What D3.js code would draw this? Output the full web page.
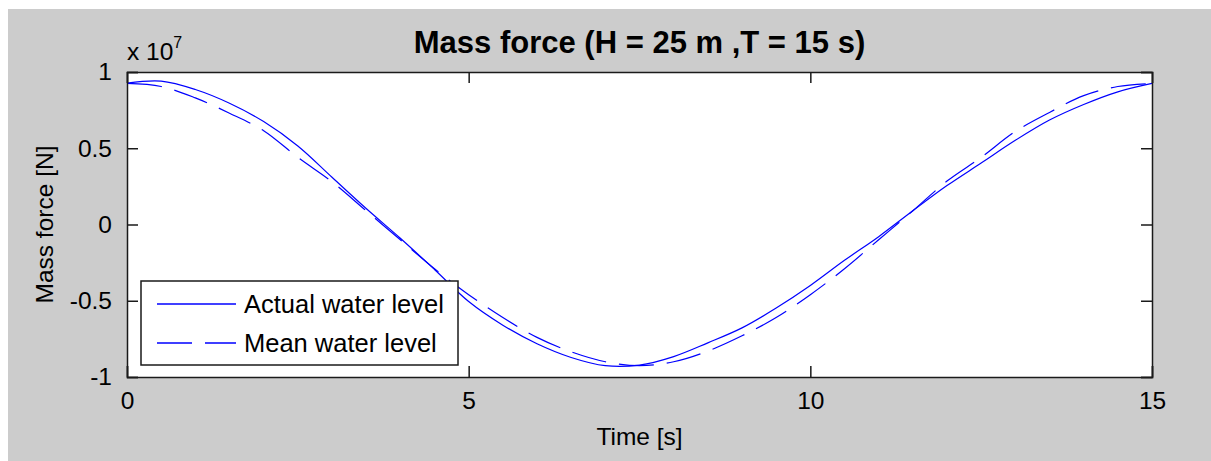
<!DOCTYPE html>
<html>
<head>
<meta charset="utf-8">
<script src="https://cdn.jsdelivr.net/npm/d3@7"></script>
<style>
  html, body { margin: 0; padding: 0; background: #ffffff; }
  svg { display: block; }
  text { font-family: "Liberation Sans", Arial, sans-serif; fill: #000; }
</style>
</head>
<body>
<svg id="chart" width="1211" height="461"></svg>
<script>
// ---- data (values in units of 1e7 N) ----
const time = [0, 0.5, 1, 1.5, 2, 2.5, 3, 3.5, 4, 4.5, 5, 5.5, 6, 6.5, 7, 7.5,
              8, 8.5, 9, 9.5, 10, 10.5, 11, 11.5, 12, 12.5, 13, 13.5, 14, 14.5, 15];
const actualLevel = [0.927, 0.940, 0.885, 0.795, 0.675, 0.515, 0.310, 0.105, -0.090, -0.295,
                     -0.505, -0.660, -0.782, -0.872, -0.926, -0.922, -0.866, -0.776, -0.678, -0.548,
                     -0.400, -0.235, -0.080, 0.090, 0.255, 0.403, 0.552, 0.685, 0.787, 0.870, 0.925];
const meanLevel = [0.925, 0.905, 0.830, 0.730, 0.615, 0.440, 0.280, 0.090, -0.100, -0.290,
                   -0.460, -0.610, -0.740, -0.835, -0.900, -0.925, -0.900, -0.830, -0.730, -0.610,
                   -0.460, -0.290, -0.100, 0.090, 0.285, 0.440, 0.610, 0.735, 0.845, 0.905, 0.925];
const xTicks = [0, 5, 10, 15];
const yTicks = [-1, -0.5, 0, 0.5, 1];
const yTickLabels = ["-1", "-0.5", "0", "0.5", "1"];
const seriesNames = ["Actual water level", "Mean water level"];
const titleText = "Mass force (H = 25 m ,T = 15 s)";
const xLabel = "Time [s]";
const yLabel = "Mass force [N]";

// ---- layout ----
const svg = d3.select("#chart");
const W = 1211, H = 461;
const plot = { left: 127, right: 1152, top: 72, bottom: 377 };

svg.append("rect").attr("x", 8).attr("y", 9).attr("width", W - 8).attr("height", H - 9)
   .attr("fill", "#cccccc");

const x = d3.scaleLinear().domain([0, 15]).range([plot.left, plot.right]);
const y = d3.scaleLinear().domain([-1, 1]).range([plot.bottom, plot.top]);

svg.append("rect").attr("x", plot.left).attr("y", plot.top)
   .attr("width", plot.right - plot.left).attr("height", plot.bottom - plot.top)
   .attr("fill", "#ffffff");

// lines
const line = d3.line().x((d, i) => x(time[i])).y(d => y(d)).curve(d3.curveCatmullRom.alpha(0.5));
svg.append("path").datum(actualLevel).attr("d", line)
   .attr("fill", "none").attr("stroke", "#0000ff").attr("stroke-width", 1.2);
svg.append("path").datum(meanLevel).attr("d", line)
   .attr("fill", "none").attr("stroke", "#0000ff").attr("stroke-width", 1.2)
   .attr("stroke-dasharray", "35,13");

// axes (ticks inside, box)
const tickLen = 11;
const fs = 24.5;
const axB = svg.append("g").attr("transform", `translate(0,${plot.bottom})`)
  .call(d3.axisBottom(x).tickValues(xTicks).tickSize(-tickLen).tickPadding(15).tickFormat(d3.format("d")));
const axT = svg.append("g").attr("transform", `translate(0,${plot.top})`)
  .call(d3.axisTop(x).tickValues(xTicks).tickSize(-tickLen).tickFormat(""));
const axL = svg.append("g").attr("transform", `translate(${plot.left},0)`)
  .call(d3.axisLeft(y).tickValues(yTicks).tickSize(-tickLen).tickPadding(15)
        .tickFormat((d, i) => yTickLabels[i]));
const axR = svg.append("g").attr("transform", `translate(${plot.right},0)`)
  .call(d3.axisRight(y).tickValues(yTicks).tickSize(-tickLen).tickFormat(""));
[axB, axT, axL, axR].forEach(g => {
  g.select(".domain").attr("stroke", "#1a1a1a").attr("stroke-width", 1.5);
  g.selectAll(".tick line").attr("stroke", "#1a1a1a").attr("stroke-width", 1.5);
  g.selectAll("text").attr("font-size", fs).attr("font-family", "Liberation Sans, Arial, sans-serif").attr("fill", "#000");
});
axB.selectAll(".tick text").attr("dy", "0.71em");

// exponent
const expo = svg.append("text").attr("x", 127).attr("y", 60).attr("font-size", fs);
expo.append("tspan").text("x 10");
expo.append("tspan").attr("font-size", 16).attr("dy", -12).text("7");

// title
svg.append("text").attr("x", (plot.left + plot.right) / 2).attr("y", 53)
   .attr("text-anchor", "middle").attr("font-size", 31).attr("font-weight", "bold")
   .text(titleText);

// axis labels
svg.append("text").attr("x", (plot.left + plot.right) / 2).attr("y", 445)
   .attr("text-anchor", "middle").attr("font-size", fs).text(xLabel);
svg.append("text").attr("transform", `translate(53,${(plot.top + plot.bottom) / 2}) rotate(-90)`)
   .attr("text-anchor", "middle").attr("font-size", fs).text(yLabel);

// legend
const lg = svg.append("g");
lg.append("rect").attr("x", 141).attr("y", 281).attr("width", 317).attr("height", 84)
  .attr("fill", "#ffffff").attr("stroke", "#1a1a1a").attr("stroke-width", 1.5);
const rows = [304, 343];
seriesNames.forEach((name, i) => {
  lg.append("line").attr("x1", 157).attr("x2", 236).attr("y1", rows[i]).attr("y2", rows[i])
    .attr("stroke", "#0000ff").attr("stroke-width", 1.5)
    .attr("stroke-dasharray", i === 1 ? "35,13" : null);
  lg.append("text").attr("x", 244).attr("y", rows[i]).attr("dy", "0.35em")
    .attr("font-size", 25.5).text(name);
});
</script>
</body>
</html>
